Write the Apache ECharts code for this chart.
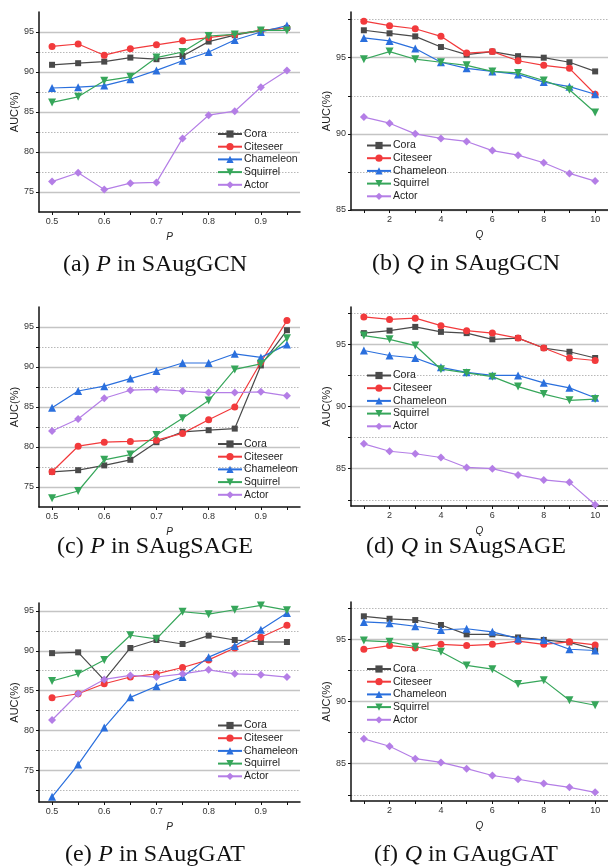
<!DOCTYPE html>
<html><head><meta charset="utf-8">
<script src="https://cdn.jsdelivr.net/npm/echarts@6/dist/echarts.min.js"></script>
<style>html,body{margin:0;padding:0;background:#fff}#c{width:608px;height:866px}</style>
</head><body><div id="c"></div>
<script>
// ---------- data ----------
const seriesNames = ['Cora', 'Citeseer', 'Chameleon', 'Squirrel', 'Actor'];
const pValues = [0.5, 0.55, 0.6, 0.65, 0.7, 0.75, 0.8, 0.85, 0.9, 0.95];
const qValues = [1, 2, 3, 4, 5, 6, 7, 8, 9, 10];
const pTickLabels = [0.5, 0.6, 0.7, 0.8, 0.9];
const qTickLabels = [2, 4, 6, 8, 10];

// (a) P in SAugGCN
const gcnP_cora      = [90.9, 91.1, 91.3, 91.8, 91.6, 92.0, 93.8, 94.6, 95.2, 95.5];
const gcnP_citeseer  = [93.2, 93.5, 92.1, 92.9, 93.4, 93.9, 94.3, 94.7, 95.2, 95.5];
const gcnP_chameleon = [88.0, 88.1, 88.3, 89.1, 90.2, 91.4, 92.5, 94.0, 95.0, 95.8];
const gcnP_squirrel  = [86.2, 86.9, 88.9, 89.4, 91.8, 92.5, 94.5, 94.7, 95.2, 95.2];
const gcnP_actor     = [76.3, 77.4, 75.3, 76.1, 76.2, 81.7, 84.6, 85.1, 88.1, 90.2];
// (b) Q in SAugGCN
const gcnQ_cora      = [96.8, 96.6, 96.4, 95.7, 95.2, 95.4, 95.1, 95.0, 94.7, 94.1];
const gcnQ_citeseer  = [97.4, 97.1, 96.9, 96.4, 95.3, 95.4, 94.8, 94.5, 94.3, 92.6];
const gcnQ_chameleon = [96.3, 96.1, 95.6, 94.7, 94.3, 94.1, 93.9, 93.4, 93.1, 92.6];
const gcnQ_squirrel  = [94.9, 95.4, 94.9, 94.7, 94.5, 94.1, 94.0, 93.5, 92.9, 91.4];
const gcnQ_actor     = [91.1, 90.7, 90.0, 89.7, 89.5, 88.9, 88.6, 88.1, 87.4, 86.9];
// (c) P in SAugSAGE
const sageP_cora      = [76.9, 77.1, 77.7, 78.4, 80.6, 81.9, 82.1, 82.3, 90.2, 94.6];
const sageP_citeseer  = [76.9, 80.1, 80.6, 80.7, 80.85, 81.7, 83.4, 85.0, 90.6, 95.8];
const sageP_chameleon = [84.9, 87.0, 87.6, 88.55, 89.5, 90.5, 90.5, 91.65, 91.2, 92.8];
const sageP_squirrel  = [73.6, 74.5, 78.4, 79.05, 81.5, 83.6, 85.8, 89.7, 90.4, 93.6];
const sageP_actor     = [82.0, 83.5, 86.1, 87.1, 87.2, 87.0, 86.8, 86.8, 86.9, 86.4];
// (d) Q in SAugSAGE
const sageQ_cora      = [95.9, 96.1, 96.4, 96.0, 95.9, 95.4, 95.5, 94.7, 94.4, 93.9];
const sageQ_citeseer  = [97.2, 97.0, 97.1, 96.5, 96.1, 95.9, 95.5, 94.7, 93.9, 93.7];
const sageQ_chameleon = [94.5, 94.1, 93.9, 93.15, 92.75, 92.5, 92.5, 91.9, 91.5, 90.7];
const sageQ_squirrel  = [95.7, 95.4, 94.9, 93.0, 92.7, 92.4, 91.6, 91.0, 90.5, 90.6];
const sageQ_actor     = [87.0, 86.4, 86.2, 85.9, 85.1, 85.0, 84.5, 84.1, 83.9, 82.1];
// (e) P in SAugGAT
const gatP_cora      = [89.7, 89.8, 86.3, 90.35, 91.35, 90.85, 91.9, 91.35, 91.1, 91.1];
const gatP_citeseer  = [84.1, 84.6, 85.85, 86.7, 87.1, 87.9, 88.85, 90.35, 91.7, 93.2];
const gatP_chameleon = [71.65, 75.7, 80.35, 84.15, 85.55, 86.7, 89.2, 90.6, 92.65, 94.75];
const gatP_squirrel  = [86.2, 87.1, 88.85, 91.95, 91.5, 94.9, 94.6, 95.15, 95.7, 95.1];
const gatP_actor     = [81.3, 84.6, 86.4, 86.9, 86.7, 87.1, 87.6, 87.1, 87.0, 86.7];
// (f) Q in GAugGAT
const gatQ_cora      = [96.85, 96.65, 96.55, 96.15, 95.4, 95.4, 95.15, 94.95, 94.75, 94.2];
const gatQ_citeseer  = [94.2, 94.5, 94.3, 94.6, 94.5, 94.6, 94.85, 94.6, 94.8, 94.55];
const gatQ_chameleon = [96.4, 96.3, 96.05, 95.75, 95.85, 95.6, 95.05, 94.95, 94.2, 94.1];
const gatQ_squirrel  = [94.9, 94.8, 94.4, 94.0, 92.9, 92.6, 91.4, 91.7, 90.1, 89.7];
const gatQ_actor     = [87.0, 86.4, 85.4, 85.1, 84.6, 84.05, 83.75, 83.4, 83.1, 82.7];

// ---------- styling / layout ----------
const colors = ['#4a4a4a', '#f23a3c', '#2a6fdd', '#36a65a', '#b47ee6'];
const symbols = ['rect', 'circle', 'triangle', 'path://M0,0L10,0L5,9Z', 'diamond'];
const symbolSizes = [6, 7, 8, 8, 8];
const sans = 'Liberation Sans, Arial, sans-serif';
const serif = 'Liberation Serif, Times New Roman, serif';

const panels = [
  { grid: {left: 39, top: 12, width: 261, height: 200}, kind: 'P', y: [72.5, 97.5], major: [75,80,85,90,95], minor: [77.5,82.5,87.5,92.5],
    legend: {left: 217, top: 128}, cap: {x: 155, y: 265, tag: '(a)', model: 'SAugGCN'},
    data: [gcnP_cora, gcnP_citeseer, gcnP_chameleon, gcnP_squirrel, gcnP_actor] },
  { grid: {left: 351, top: 12, width: 259.5, height: 198}, kind: 'Q', y: [85, 98], major: [85,90,95], minor: [87.5,92.5,97.5],
    legend: {left: 366, top: 139.5}, cap: {x: 466, y: 264, tag: '(b)', model: 'SAugGCN'},
    data: [gcnQ_cora, gcnQ_citeseer, gcnQ_chameleon, gcnQ_squirrel, gcnQ_actor] },
  { grid: {left: 39, top: 307, width: 261, height: 200}, kind: 'P', y: [72.5, 97.5], major: [75,80,85,90,95], minor: [77.5,82.5,87.5,92.5],
    legend: {left: 217, top: 438}, cap: {x: 155, y: 547, tag: '(c)', model: 'SAugSAGE'},
    data: [sageP_cora, sageP_citeseer, sageP_chameleon, sageP_squirrel, sageP_actor] },
  { grid: {left: 351, top: 307, width: 259.5, height: 199}, kind: 'Q', y: [82, 98], major: [85,90,95], minor: [82.5,87.5,92.5,97.5],
    legend: {left: 366, top: 369.5}, cap: {x: 466, y: 547, tag: '(d)', model: 'SAugSAGE'},
    data: [sageQ_cora, sageQ_citeseer, sageQ_chameleon, sageQ_squirrel, sageQ_actor] },
  { grid: {left: 39, top: 603, width: 261, height: 199}, kind: 'P', y: [71, 96], major: [75,80,85,90,95], minor: [72.5,77.5,82.5,87.5,92.5],
    legend: {left: 217, top: 719.5}, cap: {x: 155, y: 855, tag: '(e)', model: 'SAugGAT'},
    data: [gatP_cora, gatP_citeseer, gatP_chameleon, gatP_squirrel, gatP_actor] },
  { grid: {left: 351, top: 602, width: 259.5, height: 199}, kind: 'Q', y: [82, 98], major: [85,90,95], minor: [82.5,87.5,92.5,97.5],
    legend: {left: 366, top: 663}, cap: {x: 466, y: 855, tag: '(f)', model: 'GAugGAT'},
    data: [gatQ_cora, gatQ_citeseer, gatQ_chameleon, gatQ_squirrel, gatQ_actor] }
];

const option = { animation: false, backgroundColor: '#fff', grid: [], xAxis: [], yAxis: [], series: [], legend: [], graphic: [] };

panels.forEach((p, i) => {
  option.grid.push(Object.assign({containLabel: false}, p.grid));
  const isP = p.kind === 'P';
  const xs = isP ? pValues : qValues;
  option.xAxis.push({
    type: 'value', gridIndex: i,
    min: isP ? 0.475 : 0.5, max: isP ? 0.975 : 10.5,
    name: p.kind, nameLocation: 'middle', nameGap: 20,
    nameTextStyle: {fontFamily: sans, fontSize: 10, fontStyle: 'italic', color: '#222'},
    axisLine: {show: true, onZero: false, lineStyle: {color: '#111', width: 1.5}},
    axisTick: {show: true, inside: false, length: 3, customValues: xs, lineStyle: {color: '#111', width: 1}},
    axisLabel: {customValues: isP ? pTickLabels : qTickLabels, fontFamily: sans, fontSize: 9, color: '#333', margin: 5},
    splitLine: {show: false}
  });
  const yBase = {
    type: 'value', gridIndex: i, min: p.y[0], max: p.y[1], position: 'left'
  };
  option.yAxis.push(Object.assign({}, yBase, {
    name: 'AUC(%)', nameLocation: 'middle', nameGap: 18,
    nameTextStyle: {fontFamily: sans, fontSize: 11, color: '#222'},
    axisLine: {show: true, onZero: false, lineStyle: {color: '#111', width: 1.5}},
    axisTick: {show: true, inside: false, length: 3, customValues: p.major, lineStyle: {color: '#111'}},
    axisLabel: {customValues: p.major, fontFamily: sans, fontSize: 9, color: '#333', margin: 5},
    splitLine: {show: true, lineStyle: {color: '#c4c4c4', width: 1.3, type: 'solid'}}
  }));
  option.yAxis.push(Object.assign({}, yBase, {
    axisLine: {show: false},
    axisTick: {show: true, inside: false, length: 3, customValues: p.minor, lineStyle: {color: '#111'}},
    axisLabel: {show: false},
    splitLine: {show: true, lineStyle: {color: '#b8b8b8', width: 1, type: [1.5, 1.5]}}
  }));
  seriesNames.forEach((name, k) => {
    option.series.push({
      type: 'line', name: name, xAxisIndex: i, yAxisIndex: 2 * i,
      data: xs.map((x, j) => [x, p.data[k][j]]),
      symbol: symbols[k], symbolSize: symbolSizes[k], showSymbol: true,
      itemStyle: {color: colors[k]},
      lineStyle: {color: colors[k], width: 1.2},
      z: 2 + k
    });
  });
  option.legend.push({
    orient: 'vertical', left: p.legend.left, top: p.legend.top, padding: 0,
    itemWidth: 24, itemHeight: 9, itemGap: 0.7,
    data: seriesNames,
    textStyle: {fontFamily: sans, fontSize: 10.5, color: '#222', lineHeight: 12, padding: [0, 0, 0, -3]}
  });
  option.graphic.push({
    type: 'text', x: p.cap.x, y: p.cap.y,
    style: {
      text: '{n|' + p.cap.tag + '}  {i|' + p.kind + '}{n| in ' + p.cap.model + '}',
      align: 'center', verticalAlign: 'middle',
      rich: {
        n: {fontFamily: serif, fontSize: 24, fill: '#111', color: '#111'},
        i: {fontFamily: serif, fontSize: 24, fontStyle: 'italic', fill: '#111', color: '#111'}
      }
    }
  });
});

const chart = echarts.init(document.getElementById('c'), null, {renderer: 'canvas'});
chart.setOption(option);
</script></body></html>
